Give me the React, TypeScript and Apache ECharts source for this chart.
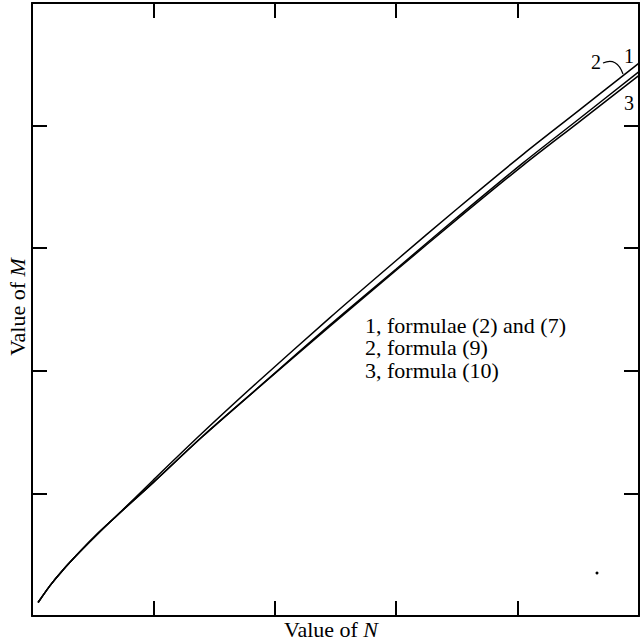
import React, { useEffect, useRef } from "react";
import * as echarts from "echarts";

// Value of N (shared abscissa for all three curves)
const nValues = [0.05, 0.15, 0.25, 0.4, 0.55, 0.7, 1.0, 1.4, 1.85, 2.45, 3.0, 3.5, 4.05, 4.5, 5.0];
// 1, formulae (2) and (7)
const curve1 = [0.11, 0.25, 0.37, 0.53, 0.68, 0.82, 1.11, 1.49, 1.9, 2.43, 2.9, 3.32, 3.77, 4.12, 4.51];
// 2, formula (9)
const curve2 = [0.11, 0.25, 0.37, 0.53, 0.68, 0.82, 1.09, 1.46, 1.85, 2.37, 2.83, 3.25, 3.7, 4.05, 4.44];
// 3, formula (10)
const curve3 = [0.11, 0.25, 0.37, 0.53, 0.68, 0.82, 1.09, 1.46, 1.85, 2.36, 2.82, 3.235, 3.68, 4.025, 4.41];

const seriesNames = ["1", "2", "3"];
const legendLines = ["1, formulae (2) and (7)", "2, formula (9)", "3, formula (10)"];
const axisMin = 0;
const axisMax = 5;
const axisInterval = 1;

const FONT = "'Liberation Serif', 'Times New Roman', serif";

export default function App() {
  const ref = useRef<HTMLDivElement>(null);

  useEffect(() => {
    if (!ref.current) return;
    const chart = echarts.init(ref.current, null, { renderer: "svg" });

    const axisCommon = {
      type: "value" as const,
      min: axisMin,
      max: axisMax,
      interval: axisInterval,
      axisLine: { show: true, onZero: false, lineStyle: { color: "#000", width: 2 } },
      axisTick: { show: true, inside: true, length: 15, lineStyle: { color: "#000", width: 2 } },
      axisLabel: { show: false },
      splitLine: { show: false },
    };

    const mk = (arr: number[]) => nValues.map((n, i) => [n, arr[i]]);

    chart.setOption({
      animation: false,
      backgroundColor: "#fff",
      grid: { left: 32, top: 3, right: 2, bottom: 26, containLabel: false },
      xAxis: [
        { ...axisCommon, position: "bottom" },
        { ...axisCommon, position: "top" },
      ],
      yAxis: [
        { ...axisCommon, position: "left" },
        { ...axisCommon, position: "right" },
      ],
      series: [curve1, curve2, curve3].map((arr, i) => ({
        name: seriesNames[i],
        type: "line",
        data: mk(arr),
        xAxisIndex: 0,
        yAxisIndex: 0,
        showSymbol: false,
        smooth: 0.3,
        clip: true,
        lineStyle: { color: "#000", width: 1.5 },
      })),
      graphic: [
        {
          type: "text",
          x: 331,
          y: 629,
          style: {
            text: "Value of {i|N}",
            font: `22px ${FONT}`,
            fill: "#000",
            align: "center",
            verticalAlign: "middle",
            rich: { i: { fontStyle: "italic", fontSize: 22, fontFamily: FONT } },
          },
        },
        {
          type: "text",
          x: 17,
          y: 307,
          rotation: Math.PI / 2,
          style: {
            text: "Value of {i|M}",
            font: `22px ${FONT}`,
            fill: "#000",
            align: "center",
            verticalAlign: "middle",
            rich: { i: { fontStyle: "italic", fontSize: 22, fontFamily: FONT } },
          },
        },
        {
          type: "text",
          x: 365,
          y: 314,
          style: {
            text: legendLines.join("\n"),
            font: `22px ${FONT}`,
            lineHeight: 22.5,
            fill: "#000",
            align: "left",
            verticalAlign: "top",
          },
        },
        {
          type: "text",
          x: 629,
          y: 56,
          style: { text: seriesNames[0], font: `20px ${FONT}`, fill: "#000", align: "center", verticalAlign: "middle" },
        },
        {
          type: "text",
          x: 596,
          y: 62,
          style: { text: seriesNames[1], font: `20px ${FONT}`, fill: "#000", align: "center", verticalAlign: "middle" },
        },
        {
          type: "text",
          x: 629,
          y: 103,
          style: { text: seriesNames[2], font: `20px ${FONT}`, fill: "#000", align: "center", verticalAlign: "middle" },
        },
        {
          type: "bezierCurve",
          shape: { x1: 603, y1: 63, cpx1: 617, cpy1: 57, x2: 623, y2: 74 },
          style: { stroke: "#000", lineWidth: 1.2, fill: "none" },
        },
        {
          type: "circle",
          shape: { cx: 597, cy: 573, r: 1.5 },
          style: { fill: "#000" },
        },
      ],
    });

    return () => chart.dispose();
  }, []);

  return <div ref={ref} style={{ width: 641, height: 642, position: "absolute", left: 0, top: 0 }} />;
}
